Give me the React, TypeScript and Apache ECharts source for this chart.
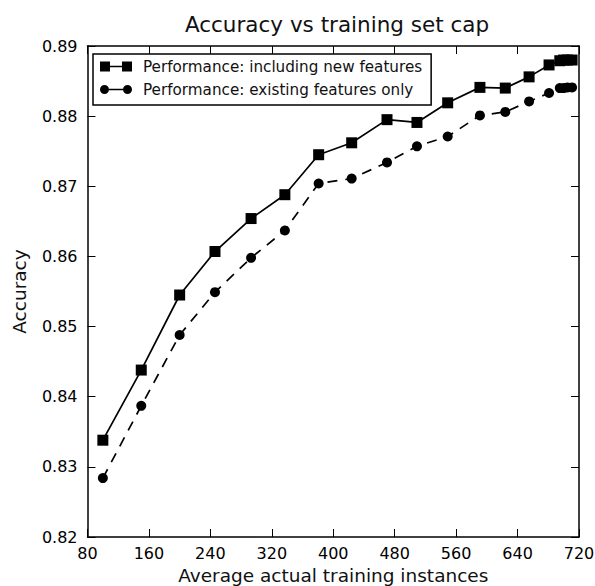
import React, { useEffect, useRef } from "react";
import * as echarts from "echarts";

const trainingInstances = [100, 150, 200, 246, 293, 337, 381, 424, 470, 509, 549, 591, 624, 655, 681, 695, 700, 705, 711];
const accuracyNewFeatures = [0.8338, 0.8438, 0.8545, 0.8607, 0.8654, 0.8688, 0.8745, 0.8762, 0.8795, 0.8791, 0.8819, 0.8841, 0.884, 0.8856, 0.8873, 0.8879, 0.888, 0.888, 0.888];
const accuracyExisting = [0.8284, 0.8387, 0.8488, 0.8549, 0.8598, 0.8637, 0.8704, 0.8711, 0.8734, 0.8757, 0.8771, 0.8801, 0.8806, 0.8821, 0.8833, 0.884, 0.884, 0.8841, 0.8841];
const seriesNames = ["Performance: including new features", "Performance: existing features only"];
const titleText = "Accuracy vs training set cap";
const xLabel = "Average actual training instances";
const yLabel = "Accuracy";

const FONT = "DejaVu Sans";

export default function App() {
  const ref = useRef<HTMLDivElement>(null);
  useEffect(() => {
    document.body.style.margin = "0";
    if (!ref.current) return;
    const chart = echarts.init(ref.current, null, { renderer: "svg" });
    const toPairs = (ys: number[]) => trainingInstances.map((x, i) => [x, ys[i]]);
    const axisLine = { show: true, lineStyle: { color: "#000", width: 1.5 } };
    const tick = { show: true, inside: true, length: 8, lineStyle: { color: "#000", width: 1 } };
    const label = { color: "#000", fontFamily: FONT, fontSize: 16 };
    chart.setOption({
      animation: false,
      backgroundColor: "#fff",
      title: {
        text: titleText,
        left: 332,
        textAlign: "center",
        top: 8,
        textStyle: { fontFamily: FONT, fontSize: 21.5, fontWeight: "normal", color: "#111" },
      },
      legend: {
        orient: "vertical",
        left: 93,
        top: 54,
        borderColor: "#000",
        borderWidth: 1.5,
        padding: [4, 9, 7, 7],
        itemWidth: 32,
        itemHeight: 10,
        itemGap: 6,
        textStyle: { fontFamily: FONT, fontSize: 15.2, color: "#111", padding: [0, 0, 0, 6], lineHeight: 17 },
        data: [
          { name: seriesNames[0], icon: "path://M0,0h10v10h-10z M10,4.2h12v1.6h-12z M22,0h10v10h-10z" },
          { name: seriesNames[1], icon: "path://M0,5a4.5,4.5 0 1,0 9,0a4.5,4.5 0 1,0 -9,0z M9,4.2h14v1.6h-14z M23,5a4.5,4.5 0 1,0 9,0a4.5,4.5 0 1,0 -9,0z" },
        ],
      },
      grid: { left: 87.5, top: 46, right: 16, bottom: 49, containLabel: false, outerBoundsMode: "none" },
      xAxis: [
        {
          type: "value",
          min: 80,
          max: 720,
          interval: 80,
          position: "bottom",
          name: xLabel,
          nameLocation: "middle",
          nameGap: 29,
          nameTextStyle: { fontFamily: FONT, fontSize: 18.5, color: "#111" },
          axisLine,
          axisTick: tick,
          axisLabel: { ...label, margin: 8 },
          splitLine: { show: false },
        },
        {
          type: "value",
          min: 80,
          max: 720,
          interval: 80,
          position: "top",
          axisLine,
          axisTick: tick,
          axisLabel: { show: false },
          splitLine: { show: false },
        },
      ],
      yAxis: [
        {
          type: "value",
          min: 0.82,
          max: 0.89,
          interval: 0.01,
          position: "left",
          name: yLabel,
          nameLocation: "middle",
          nameGap: 59,
          nameTextStyle: { fontFamily: FONT, fontSize: 18.5, color: "#111" },
          axisLine,
          axisTick: tick,
          axisLabel: { ...label, margin: 10, formatter: (v: number) => v.toFixed(2) },
          splitLine: { show: false },
        },
        {
          type: "value",
          min: 0.82,
          max: 0.89,
          interval: 0.01,
          position: "right",
          axisLine,
          axisTick: tick,
          axisLabel: { show: false },
          splitLine: { show: false },
        },
      ],
      series: [
        {
          name: seriesNames[0],
          type: "line",
          data: toPairs(accuracyNewFeatures),
          symbol: "rect",
          symbolSize: 11,
          itemStyle: { color: "#000" },
          lineStyle: { color: "#000", width: 1.7, type: "solid" },
          clip: false,
        },
        {
          name: seriesNames[1],
          type: "line",
          data: toPairs(accuracyExisting),
          symbol: "circle",
          symbolSize: 10,
          itemStyle: { color: "#000" },
          lineStyle: { color: "#000", width: 1.7, type: [10, 8] },
          clip: false,
        },
      ],
    });
    return () => chart.dispose();
  }, []);
  return <div ref={ref} style={{ width: 595, height: 586 }} />;
}
